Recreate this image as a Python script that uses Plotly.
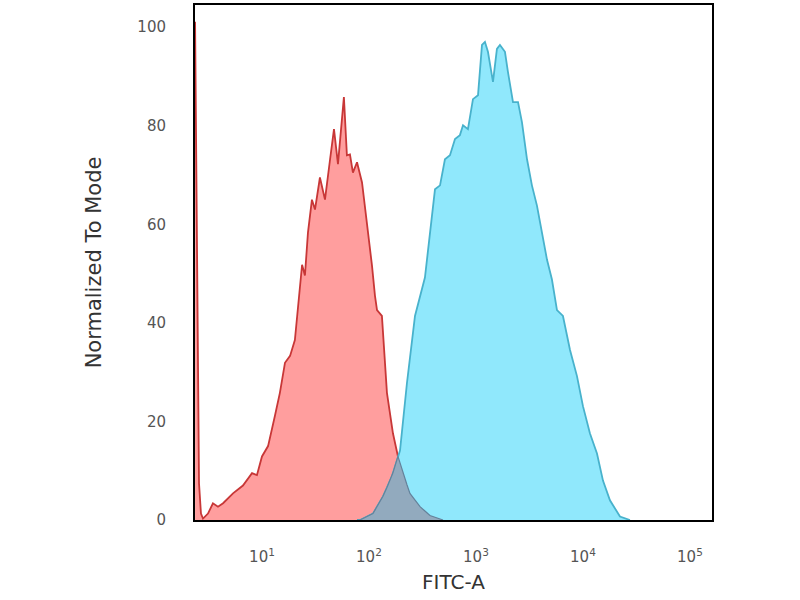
import numpy as np
import plotly.graph_objects as go

# Isotype control (red) histogram: FITC-A intensity vs normalized count
red_x = [2.37, 2.58, 2.69, 2.81, 3.13, 3.48, 3.88, 4.33, 5.36, 6.64, 8.07, 8.97, 10.0, 11.4,
         13.2, 14.7, 16.4, 18.3, 20.3, 21.7, 22.6, 23.7, 25.2, 26.9, 29.3, 31.3, 34.8, 38.8,
         43.3, 47.1, 51.3, 58.3, 62.2, 66.4, 70.8, 77.3, 86.1, 95.7, 106.7, 113.8, 118.9,
         132.1, 147.2, 167.5, 186.6, 208, 241.5, 300, 371.5, 492]
red_y = [101.1, 7.4, 1.3, 0.3, 1.3, 3.4, 2.7, 3.4, 5.4, 7.0, 9.5, 9.1, 12.9, 15.0,
         21.1, 25.8, 31.9, 33.3, 36.5, 42.6, 46.1, 51.8, 49.6, 58.3, 65.0, 63.0, 69.5, 65.0,
         73.2, 79.3, 72.2, 85.8, 74.0, 74.2, 70.5, 72.6, 68.5, 60.4, 51.6, 45.5, 42.6,
         41.4, 25.8, 17.6, 12.9, 9.5, 5.4, 2.7, 0.9, 0.0]

# Antibody-stained (blue) histogram
blue_x = [77.3, 82.4, 108.9, 135.2, 164.1, 186.6, 195, 226.5, 269.2, 333.4, 371.5, 414,
          461.3, 512.9, 571.5, 636.8, 707.9, 756.8, 841.4, 937.6, 1045, 1138, 1213, 1294,
          1442, 1570, 1675, 1866, 1991, 2218, 2472, 2692, 3000, 3334, 3715, 4140, 4613,
          5129, 5715, 6501, 7568, 8790, 10000, 11610, 13520, 15380, 17870, 22180, 27480]
blue_y = [0.0, 0.0, 1.3, 4.8, 8.9, 13.1, 14.1, 27.8, 41.4, 49.2, 58.3, 67.1,
          67.9, 73.2, 74.0, 77.3, 78.1, 80.1, 79.3, 85.4, 86.2, 96.4, 97.0, 95.0,
          88.9, 95.6, 96.4, 95.0, 90.9, 84.8, 84.8, 80.7, 73.2, 67.9, 63.8, 58.3, 52.8,
          48.8, 42.6, 41.4, 34.5, 29.2, 23.1, 17.6, 13.5, 8.0, 4.0, 0.7, 0.0]

x_tick_vals = [10, 100, 1000, 10000, 100000]
x_tick_text = ["10<sup>1</sup>", "10<sup>2</sup>", "10<sup>3</sup>", "10<sup>4</sup>", "10<sup>5</sup>"]
y_tick_vals = [0, 20, 40, 60, 80, 100]

# Overlap region (where both histograms coincide), derived from the two series
lr, lb = np.log10(red_x), np.log10(blue_x)
lo, hi = max(lr.min(), lb.min()), min(lr.max(), lb.max())
grid = np.unique(np.concatenate([lr, lb]))
grid = grid[(grid >= lo) & (grid <= hi)]
ov = np.minimum(np.interp(grid, lr, red_y), np.interp(grid, lb, blue_y))
ov_x = 10 ** grid

fig = go.Figure()
fig.add_trace(go.Scatter(x=red_x, y=red_y, mode="lines", fill="tozeroy",
                         fillcolor="rgb(255,158,158)",
                         line=dict(color="rgb(200,55,55)", width=1.8), showlegend=False))
fig.add_trace(go.Scatter(x=blue_x, y=blue_y, mode="lines", fill="tozeroy",
                         fillcolor="rgb(144,232,252)",
                         line=dict(color="rgb(72,178,204)", width=1.8), showlegend=False))
fig.add_trace(go.Scatter(x=ov_x, y=ov, mode="lines", fill="tozeroy",
                         fillcolor="rgb(146,170,190)",
                         line=dict(color="rgb(100,130,155)", width=1.2), showlegend=False))

fig.update_layout(
    width=800, height=600,
    margin=dict(l=195, r=88, t=3, b=80),
    paper_bgcolor="white", plot_bgcolor="white",
    font=dict(family="DejaVu Sans", color="#444"),
    xaxis=dict(type="log", range=[0.374, 5.206], tickvals=x_tick_vals, ticktext=x_tick_text,
               ticks="outside", ticklen=22, tickcolor="rgba(0,0,0,0)",
               tickfont=dict(size=15, color="#555"),
               showgrid=False, zeroline=False, showline=True, linecolor="black",
               linewidth=2, mirror=True,
               title=dict(text="FITC-A", font=dict(size=20, color="#333"), standoff=10)),
    yaxis=dict(range=[0, 104.5], tickvals=y_tick_vals,
               ticks="outside", ticklen=24, tickcolor="rgba(0,0,0,0)",
               tickfont=dict(size=15, color="#555"),
               showgrid=False, zeroline=False, showline=True, linecolor="black",
               linewidth=2, mirror=True,
               title=dict(text="Normalized To Mode", font=dict(size=21, color="#333"),
                          standoff=30)),
)

fig.write_html("out.html", config={"displayModeBar": False},
               post_script="document.body.style.margin='0';document.body.style.padding='0';")
